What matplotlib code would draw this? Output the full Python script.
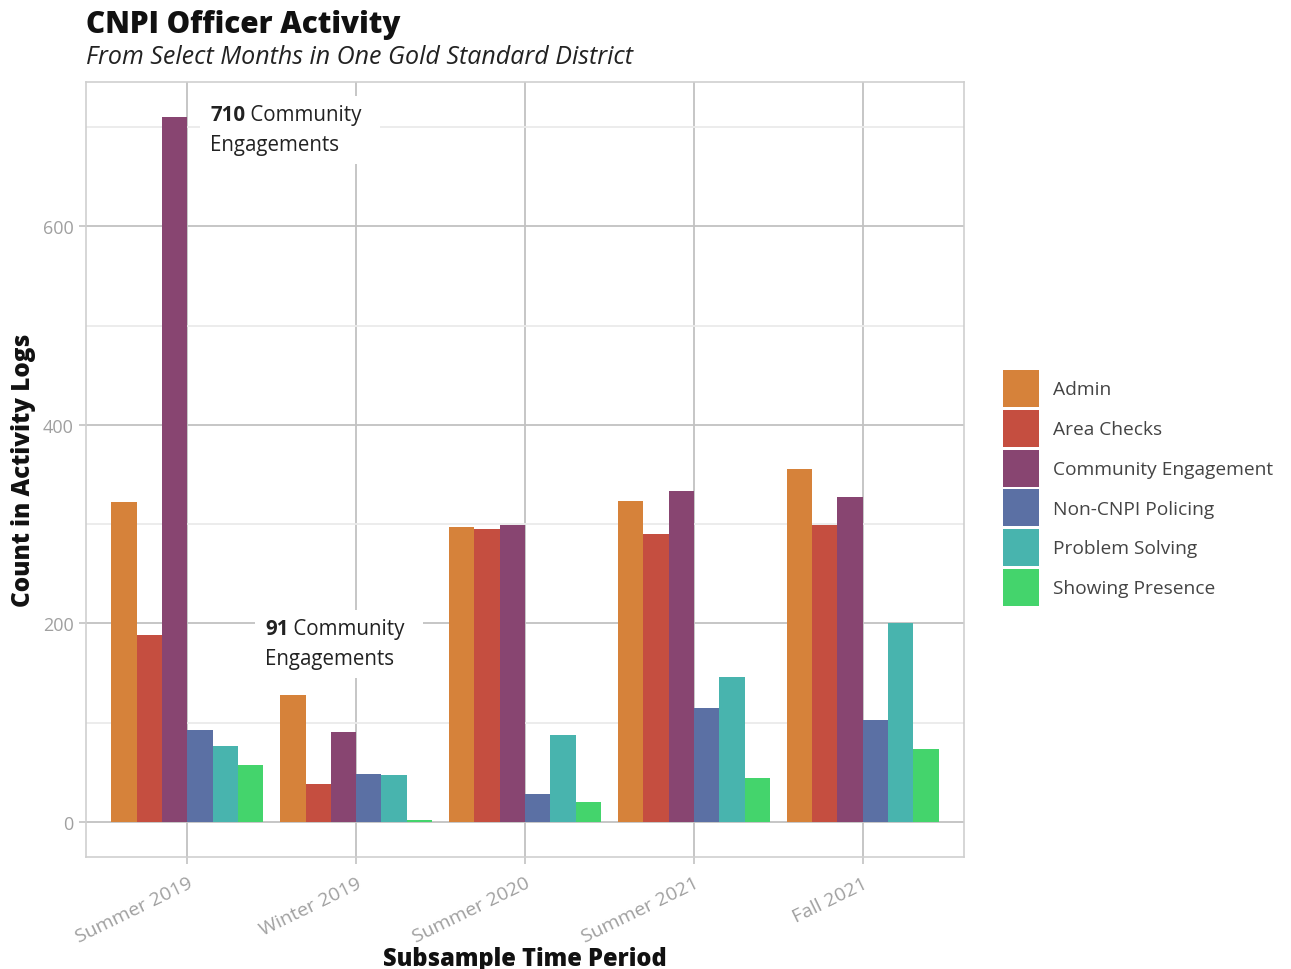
import matplotlib
matplotlib.use("Agg")
import matplotlib.pyplot as plt
import numpy as np
from matplotlib.patches import Patch, Rectangle
from matplotlib.transforms import Bbox

# ---- data ----
periods = ["Summer 2019", "Winter 2019", "Summer 2020", "Summer 2021", "Fall 2021"]
activities = ["Admin", "Area Checks", "Community Engagement", "Non-CNPI Policing",
              "Problem Solving", "Showing Presence"]
admin = [322, 128, 297, 323, 356]
area_checks = [188, 38, 295, 290, 299]
community = [710, 90, 299, 333, 327]
non_cnpi = [92, 48, 28, 115, 103]
problem_solving = [76, 47, 87, 146, 200]
showing_presence = [57, 2, 20, 44, 73]
series = [admin, area_checks, community, non_cnpi, problem_solving, showing_presence]
colors = ["#D6823A", "#C54E40", "#884571", "#5B70A4", "#48B4AE", "#44D46C"]
y_ticks = [0, 200, 400, 600]
y_minor = [100, 300, 500, 700]

plt.rcParams['font.family'] = ['Open Sans', 'DejaVu Sans']

fig = plt.figure(figsize=(12.91, 9.70), dpi=100)
ax = fig.add_axes([86/1291, 1-858/970, (964-86)/1291, (858-83)/970])

x = np.arange(len(periods))
n = len(series)
total_w = 0.9
w = total_w / n
handles = []
for i, (vals, c, lab) in enumerate(zip(series, colors, activities)):
    pos = x - total_w/2 + w*(i+0.5)
    ax.bar(pos, vals, width=w, color=c, label=lab, zorder=3, linewidth=0)
    handles.append(Patch(facecolor=c, edgecolor='none', label=lab))

ymax = max(max(s) for s in series)
ax.set_ylim(-0.05*ymax, 1.05*ymax)
ax.set_xlim(-0.6, len(periods)-0.4)

ax.set_yticks(y_ticks)
ax.set_yticks(y_minor, minor=True)
ax.set_xticks(x)
ax.set_xticklabels(periods, rotation=26, ha='right', rotation_mode='anchor',
                   fontsize=14, color='#a0a0a0')
ax.set_yticklabels([str(v) for v in y_ticks], fontsize=13, color='#a0a0a0')
ax.tick_params(axis='both', which='major', length=5, color='#bdbdbd', width=1.1, pad=4)
ax.tick_params(axis='y', which='minor', length=0)
ax.tick_params(axis='x', pad=7)

ax.grid(True, which='major', axis='both', color='#c2c2c2', linewidth=1.3, zorder=0)
ax.grid(True, which='minor', axis='y', color='#ebebeb', linewidth=1.3, zorder=0)
ax.set_axisbelow(True)
for sp in ax.spines.values():
    sp.set_color('#cfcfcf')
    sp.set_linewidth(1.2)

ax.set_xlabel("Subsample Time Period", fontsize=17, fontweight='heavy', labelpad=0,
              color='#111111')
ax.set_ylabel("Count in Activity Logs", fontsize=17.5, fontweight='heavy', labelpad=5,
              color='#111111')

# ---- annotations ----
ann_fs = 14.8
def label(ax, xd, yd, num, rest1, rest2):
    t1 = ax.text(xd, yd, num, fontsize=ann_fs, fontweight='bold', color='#222222',
                 va='top', ha='left', zorder=6)
    t2 = ax.annotate(" " + rest1, xy=(1, 0), xycoords=t1, va='bottom', ha='left',
                     fontsize=ann_fs, color='#222222', zorder=6)
    t3 = ax.annotate(rest2, xy=(0, 0), xycoords=t1, xytext=(0, -6),
                     textcoords='offset points',
                     va='top', ha='left', fontsize=ann_fs, color='#222222', zorder=6)
    return [t1, t2, t3]

labels = [label(ax, 0.135, 723, "710", "Community", "Engagements"),
          label(ax, 0.46, 205, "91", "Community", "Engagements")]

fig.canvas.draw()
r = fig.canvas.get_renderer()
for group in labels:
    bb = Bbox.union([t.get_window_extent(r) for t in group])
    bb = Bbox.from_extents(bb.x0 - 10, bb.y0 - 9, bb.x1 + 18, bb.y1 + 8)
    bba = bb.transformed(ax.transAxes.inverted())
    ax.add_patch(Rectangle((bba.x0, bba.y0), bba.width, bba.height,
                           transform=ax.transAxes, facecolor='white', edgecolor='none',
                           zorder=5))

# ---- titles ----
fig.text(86/1291, 1-25/970, "CNPI Officer Activity", fontsize=21.3, fontweight='heavy',
         va='center', ha='left', color='#111111')
fig.text(86/1291, 1-57/970, "From Select Months in One Gold Standard District", fontsize=18,
         style='italic', va='center', ha='left', color='#222222')

# ---- legend ----
fig.legend(handles=handles, loc='center left', bbox_to_anchor=(986/1291, 1-489/970),
           frameon=False, fontsize=13.8, handlelength=1.88, handleheight=2.6,
           labelspacing=0.14, handletextpad=0.72, labelcolor='#444444')

fig.savefig("out.png", dpi=100, facecolor='white')
